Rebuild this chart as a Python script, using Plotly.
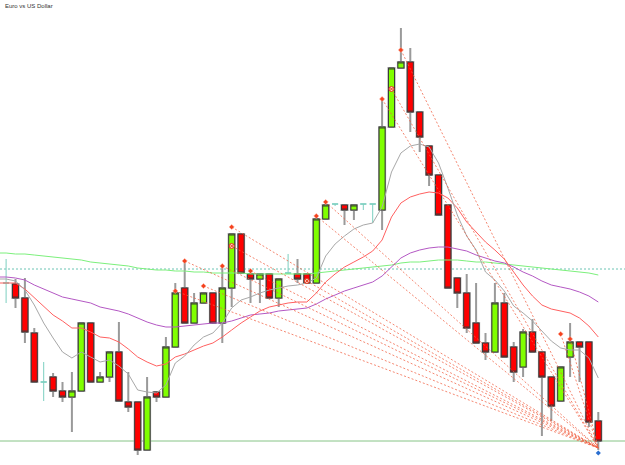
import plotly.graph_objects as go

title_text = "Euro vs US Dollar"

# candle index (bar number) and OHLC prices
bar_idx = list(range(-1, 63))
open_ = [1.3177, 1.3176, 1.3162, 1.3127, 1.3078, 1.3083, 1.3069, 1.3063, 1.3069, 1.3137,
         1.3078, 1.3083, 1.3108, 1.3058, 1.3058, 1.3010, 1.3068, 1.3063, 1.3113, 1.3172,
         1.3137, 1.3157, 1.3167, 1.3137, 1.3172, 1.3226, 1.3186, 1.3181, 1.3186, 1.3162,
         1.3187, 1.3186, 1.3186, 1.3177, 1.3241, 1.3256, 1.3255, 1.3250, 1.3256, 1.3256,
         1.3250, 1.3333, 1.3392, 1.3398, 1.3348, 1.3314, 1.3285, 1.3255, 1.3182, 1.3167,
         1.3137, 1.3117, 1.3108, 1.3157, 1.3113, 1.3093, 1.3128, 1.3108, 1.3083, 1.3059,
         1.3103, 1.3118, 1.3118, 1.3039]
high = [1.3201, 1.3181, 1.3182, 1.3132, 1.3098, 1.3087, 1.3078, 1.3088, 1.3137, 1.3137,
        1.3088, 1.3108, 1.3138, 1.3088, 1.3058, 1.3083, 1.3068, 1.3123, 1.3177, 1.3198,
        1.3167, 1.3167, 1.3167, 1.3193, 1.3226, 1.3226, 1.3186, 1.3186, 1.3186, 1.3181,
        1.3206, 1.3201, 1.3186, 1.3241, 1.3255, 1.3256, 1.3255, 1.3255, 1.3256, 1.3256,
        1.3360, 1.3392, 1.3432, 1.3412, 1.3348, 1.3314, 1.3285, 1.3255, 1.3182, 1.3186,
        1.3177, 1.3127, 1.3177, 1.3167, 1.3118, 1.3131, 1.3141, 1.3108, 1.3083, 1.3093,
        1.3137, 1.3118, 1.3118, 1.3048]
low = [1.3157, 1.3152, 1.3117, 1.3078, 1.3059, 1.3063, 1.3058, 1.3028, 1.3069, 1.3078,
       1.3078, 1.3078, 1.3059, 1.3048, 1.3005, 1.3010, 1.3058, 1.3063, 1.3113, 1.3137,
       1.3137, 1.3157, 1.3137, 1.3117, 1.3153, 1.3187, 1.3157, 1.3157, 1.3162, 1.3153,
       1.3186, 1.3177, 1.3177, 1.3177, 1.3241, 1.3254, 1.3235, 1.3240, 1.3250, 1.3237,
       1.3230, 1.3333, 1.3392, 1.3328, 1.3308, 1.3274, 1.3245, 1.3172, 1.3152, 1.3127,
       1.3117, 1.3100, 1.3108, 1.3103, 1.3078, 1.3083, 1.3108, 1.3024, 1.3039, 1.3059,
       1.3083, 1.3078, 1.3033, 1.3010]
close = [1.3177, 1.3162, 1.3128, 1.3078, 1.3078, 1.3069, 1.3063, 1.3069, 1.3137, 1.3078,
         1.3083, 1.3108, 1.3059, 1.3053, 1.3010, 1.3063, 1.3063, 1.3113, 1.3167, 1.3137,
         1.3157, 1.3167, 1.3137, 1.3172, 1.3226, 1.3187, 1.3181, 1.3186, 1.3162, 1.3181,
         1.3187, 1.3181, 1.3177, 1.3241, 1.3255, 1.3256, 1.3250, 1.3255, 1.3256, 1.3256,
         1.3333, 1.3392, 1.3398, 1.3348, 1.3323, 1.3285, 1.3245, 1.3172, 1.3167, 1.3132,
         1.3117, 1.3108, 1.3157, 1.3103, 1.3088, 1.3128, 1.3108, 1.3083, 1.3054, 1.3093,
         1.3118, 1.3113, 1.3038, 1.3019]

# moving averages read at each bar (bar -2 .. 62)
ma_idx = list(range(-2, 63))
ma_fast = [1.3181, 1.3181, 1.3179, 1.3170, 1.3155, 1.3137, 1.3122, 1.3108, 1.3102, 1.3108,
           1.3103, 1.3098, 1.3100, 1.3094, 1.3086, 1.3070, 1.3068, 1.3067, 1.3075, 1.3097,
           1.3104, 1.3115, 1.3123, 1.3127, 1.3137, 1.3152, 1.3160, 1.3163, 1.3167, 1.3170,
           1.3172, 1.3174, 1.3175, 1.3177, 1.3182, 1.3204, 1.3216, 1.3224, 1.3231, 1.3235,
           1.3237, 1.3253, 1.3288, 1.3307, 1.3314, 1.3316, 1.3313, 1.3297, 1.3272, 1.3245,
           1.3224, 1.3210, 1.3188, 1.3180, 1.3169, 1.3154, 1.3147, 1.3139, 1.3129, 1.3119,
           1.3112, 1.3110, 1.3110, 1.3102, 1.3082]
ma_mid = [1.3177, 1.3177, 1.3177, 1.3171, 1.3162, 1.3154, 1.3145, 1.3139, 1.3132, 1.3132,
          1.3128, 1.3123, 1.3122, 1.3118, 1.3111, 1.3103, 1.3098, 1.3094, 1.3096, 1.3103,
          1.3106, 1.3110, 1.3114, 1.3117, 1.3123, 1.3130, 1.3137, 1.3143, 1.3149, 1.3153,
          1.3155, 1.3157, 1.3158, 1.3158, 1.3167, 1.3178, 1.3186, 1.3193, 1.3198, 1.3203,
          1.3209, 1.3220, 1.3243, 1.3257, 1.3263, 1.3266, 1.3268, 1.3267, 1.3262, 1.3252,
          1.3238, 1.3228, 1.3218, 1.3210, 1.3201, 1.3188, 1.3175, 1.3164, 1.3155, 1.3151,
          1.3149, 1.3147, 1.3142, 1.3134, 1.3123]
ma_slow = [1.3183, 1.3183, 1.3182, 1.3180, 1.3175, 1.3171, 1.3167, 1.3163, 1.3161, 1.3159,
           1.3157, 1.3153, 1.3151, 1.3149, 1.3146, 1.3142, 1.3138, 1.3135, 1.3133, 1.3133,
           1.3134, 1.3135, 1.3136, 1.3137, 1.3137, 1.3139, 1.3142, 1.3145, 1.3146, 1.3147,
           1.3149, 1.3150, 1.3151, 1.3152, 1.3156, 1.3161, 1.3165, 1.3169, 1.3172, 1.3175,
           1.3178, 1.3184, 1.3193, 1.3202, 1.3207, 1.3210, 1.3212, 1.3213, 1.3213, 1.3211,
           1.3209, 1.3205, 1.3202, 1.3199, 1.3197, 1.3193, 1.3188, 1.3184, 1.3179, 1.3175,
           1.3173, 1.3171, 1.3168, 1.3164, 1.3158]
ma_long = [1.3207, 1.3207, 1.3206, 1.3206, 1.3205, 1.3204, 1.3203, 1.3202, 1.3201, 1.3200,
           1.3198, 1.3197, 1.3196, 1.3195, 1.3194, 1.3192, 1.3191, 1.3190, 1.3190, 1.3189,
           1.3189, 1.3188, 1.3188, 1.3187, 1.3187, 1.3187, 1.3187, 1.3186, 1.3186, 1.3186,
           1.3186, 1.3186, 1.3186, 1.3186, 1.3187, 1.3188, 1.3189, 1.3190, 1.3191, 1.3192,
           1.3193, 1.3194, 1.3195, 1.3197, 1.3198, 1.3198, 1.3199, 1.3200, 1.3200, 1.3200,
           1.3199, 1.3198, 1.3198, 1.3197, 1.3196, 1.3195, 1.3194, 1.3193, 1.3192, 1.3191,
           1.3190, 1.3189, 1.3188, 1.3187, 1.3185]

# signal markers (bar, price) and their projection target
sig_idx = [17, 18, 20, 22, 23, 25, 32, 33, 39, 41, 58, 59]
sig_price = [1.3169, 1.3199, 1.3174, 1.3194, 1.3233, 1.3189, 1.3244, 1.3258, 1.3361, 1.3410,
             1.3126, 1.3121]
sig2_idx = [23, 31, 40]
sig2_price = [1.3214, 1.3179, 1.3371]
target_idx = 62
target_price = 1.3012
low_mark_idx = [62]
low_mark_price = [1.3007]

level_dotted = 1.3191
level_solid = 1.3019

fig = go.Figure()

# split candles / dojis
c_x, c_o, c_h, c_l, c_c = [], [], [], [], []
d_x, d_o, d_h, d_l, d_c = [], [], [], [], []
for i, o, h, l, c in zip(bar_idx, open_, high, low, close):
    if o == c:
        d_x.append(i); d_o.append(o); d_h.append(h); d_l.append(l); d_c.append(c)
    else:
        c_x.append(i); c_o.append(o); c_h.append(h); c_l.append(l); c_c.append(c)

# level lines
fig.add_shape(type="line", xref="paper", x0=0, x1=1, y0=level_dotted, y1=level_dotted,
              line=dict(color="#6cc4b4", width=1, dash="2px,2px"), layer="below")
fig.add_shape(type="line", xref="paper", x0=0, x1=1, y0=level_solid, y1=level_solid,
              line=dict(color="#86c486", width=1), layer="below")

# moving averages
for vals, col in [(ma_long, "#7cf07c"), (ma_slow, "#b458c4"), (ma_mid, "#ff6060"), (ma_fast, "#a8a8a8")]:
    fig.add_trace(go.Scatter(x=ma_idx, y=vals, mode="lines", line=dict(color=col, width=1),
                             hoverinfo="skip"))

# wicks + halo
fig.add_trace(go.Candlestick(x=c_x, open=c_o, high=c_h, low=c_l, close=c_c,
                             increasing=dict(line=dict(color="#9a9a9a", width=2), fillcolor="#80ff00"),
                             decreasing=dict(line=dict(color="#9a9a9a", width=2), fillcolor="#ff0000"),
                             hoverinfo="skip"))
# bodies
b_h = [max(o, c) for o, c in zip(c_o, c_c)]
b_l = [min(o, c) for o, c in zip(c_o, c_c)]
fig.add_trace(go.Candlestick(x=c_x, open=c_o, high=b_h, low=b_l, close=c_c,
                             increasing=dict(line=dict(color="#3a3a3a", width=1), fillcolor="#80ff00"),
                             decreasing=dict(line=dict(color="#3a3a3a", width=1), fillcolor="#ff0000"),
                             hoverinfo="skip"))
# dojis
fig.add_trace(go.Candlestick(x=d_x, open=d_o, high=d_h, low=d_l, close=d_c,
                             increasing=dict(line=dict(color="#7ccfc0", width=1), fillcolor="#7ccfc0"),
                             decreasing=dict(line=dict(color="#7ccfc0", width=1), fillcolor="#7ccfc0"),
                             hoverinfo="skip"))

# projection lines
lx, ly = [], []
for xi, yi in list(zip(sig_idx, sig_price)) + list(zip(sig2_idx, sig2_price)):
    lx += [xi, target_idx, None]
    ly += [yi, target_price, None]
fig.add_trace(go.Scatter(x=lx, y=ly, mode="lines",
                         line=dict(color="rgba(240,95,65,0.75)", width=1, dash="2px,2px"),
                         hoverinfo="skip"))

fig.add_trace(go.Scatter(x=sig_idx, y=sig_price, mode="markers",
                         marker=dict(symbol="diamond", size=4, color="#f4421e",
                                     line=dict(color="#ffb0a0", width=0.5)), hoverinfo="skip"))
fig.add_trace(go.Scatter(x=sig2_idx, y=sig2_price, mode="markers",
                         marker=dict(symbol="circle-x", size=5, color="#ffd8d0",
                                     line=dict(color="#e83a1e", width=1)), hoverinfo="skip"))
fig.add_trace(go.Scatter(x=low_mark_idx, y=low_mark_price, mode="markers",
                         marker=dict(symbol="diamond", size=4, color="#2a6fd0"), hoverinfo="skip"))

fig.add_annotation(text=title_text, xref="paper", yref="paper", x=0.004, y=0.998,
                   xanchor="left", yanchor="top", showarrow=False,
                   font=dict(family="Liberation Sans, Arial", size=6, color="#333333"))

fig.update_layout(
    width=625, height=465, margin=dict(l=0, r=0, t=0, b=0),
    paper_bgcolor="white", plot_bgcolor="white", showlegend=False,
    boxgap=0.2, boxgroupgap=0.2,
    xaxis=dict(range=[-1.649, 64.84], visible=False, rangeslider=dict(visible=False),
               showgrid=False, zeroline=False),
    yaxis=dict(range=[1.2995, 1.3460], visible=False, showgrid=False, zeroline=False),
)

fig.write_html("out.html")
